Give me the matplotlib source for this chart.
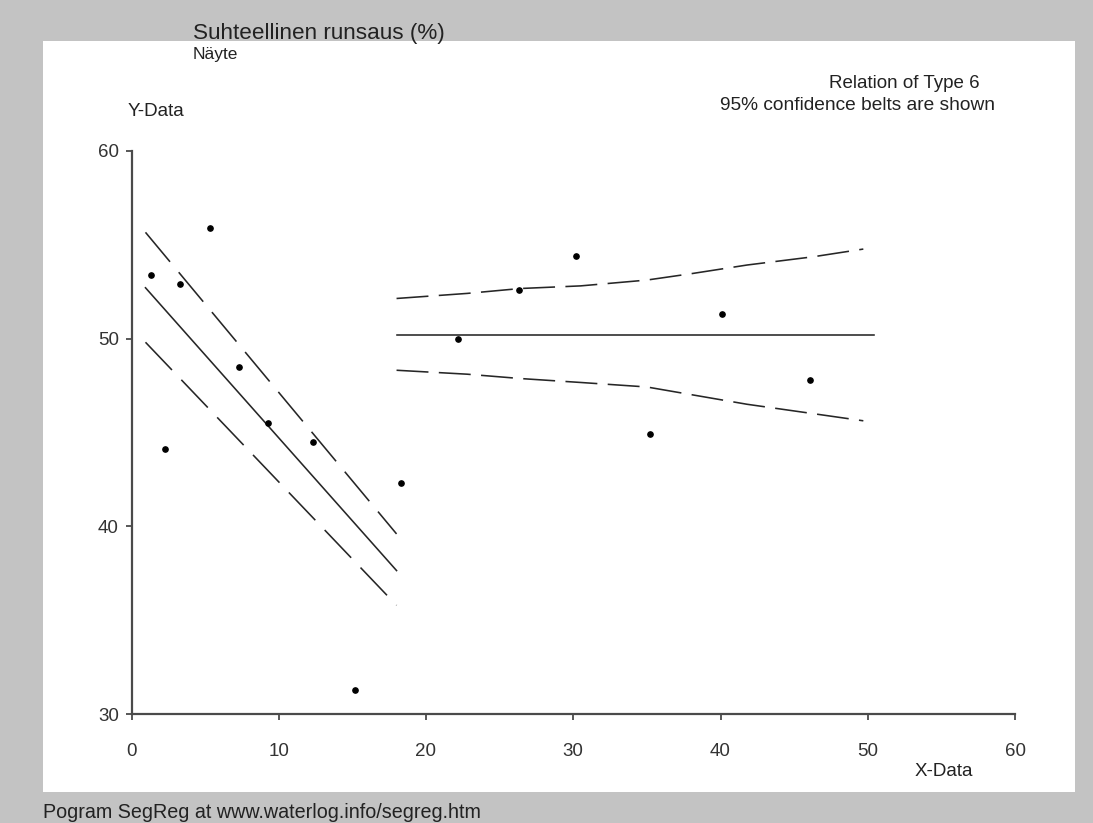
import matplotlib
matplotlib.use("Agg")
import matplotlib.pyplot as plt
from matplotlib.patches import Rectangle

plt.rcParams['font.family'] = ['Liberation Sans', 'DejaVu Sans']

# observed points
x_obs = [1.3, 2.3, 3.3, 5.3, 7.3, 9.3, 12.3, 15.2, 18.3, 22.2, 26.3, 30.2, 35.2, 40.1, 46.1]
y_obs = [53.4, 44.1, 52.9, 55.9, 48.5, 45.5, 44.5, 31.3, 42.3, 50.0, 52.6, 54.4, 44.9, 51.3, 47.8]

# segment 1 (sloping) with confidence belts
x_seg1 = [0.95, 18.0]
y_seg1 = [52.7, 37.65]
y_seg1_up = [55.65, 39.6]
y_seg1_lo = [49.8, 35.8]

# segment 2 (horizontal) with confidence belts
x_seg2 = [18.0, 50.4]
y_seg2 = [50.2, 50.2]
x_belt2 = [18.0, 22.8, 26.4, 30.5, 35.0, 38.1, 41.8, 46.3, 49.7]
y_belt2_up = [52.13, 52.40, 52.66, 52.80, 53.11, 53.46, 53.91, 54.35, 54.76]
y_belt2_lo = [48.31, 48.10, 47.87, 47.66, 47.42, 47.00, 46.50, 46.00, 45.62]

x_ticks = [0, 10, 20, 30, 40, 50, 60]
y_ticks = [30, 40, 50, 60]

W, H = 1093, 823


def fx(px):
    return px / W


def fy(py):
    return 1 - py / H


fig = plt.figure(figsize=(W / 100, H / 100), dpi=100, facecolor='#c3c3c3')
fig.patches.append(Rectangle((fx(43), fy(792)), fx(1075) - fx(43), fy(41) - fy(792),
                             transform=fig.transFigure, facecolor='white',
                             edgecolor='none', zorder=-5))

ax = fig.add_axes([fx(131.5), fy(714.3), fx(1015) - fx(131.5), fy(150.6) - fy(714.3)])
ax.set_zorder(2)
ax.set_facecolor('none')
ax.set_xlim(0, 60)
ax.set_ylim(30, 60)

line_col = '#262626'
ax.plot(x_seg1, y_seg1, color=line_col, lw=1.15)
ax.plot(x_seg1, y_seg1_up, color=line_col, lw=1.15, dashes=(24, 8.5))
ax.plot(x_seg1, y_seg1_lo, color=line_col, lw=1.15, dashes=(24, 8.5))
ax.plot(x_seg2, y_seg2, color=line_col, lw=1.15)
ax.plot(x_belt2, y_belt2_up, color=line_col, lw=1.15, dashes=(20, 6.5))
ax.plot(x_belt2, y_belt2_lo, color=line_col, lw=1.15, dashes=(20, 6.5))
ax.plot(x_obs, y_obs, 'o', color='black', ms=3.8, zorder=5)

for side in ['top', 'right']:
    ax.spines[side].set_visible(False)
for side in ['left', 'bottom']:
    ax.spines[side].set_color('#4a4a4a')
    ax.spines[side].set_linewidth(1.6)

ax.set_xticks(x_ticks)
ax.set_yticks(y_ticks)
ax.tick_params(axis='both', direction='out', length=4, width=1.3, color='#4a4a4a',
               labelsize=13.5, labelcolor='#333333')
ax.tick_params(axis='x', pad=17)
ax.tick_params(axis='y', pad=5)

txt = '#222222'
fig.text(fx(193), fy(34), 'Suhteellinen runsaus (%)', fontsize=16.2, color=txt, va='center')
fig.text(fx(193), fy(55), 'Näyte', fontsize=12.5, color=txt, va='center')
fig.text(fx(128), fy(111), 'Y-Data', fontsize=13.5, color=txt, va='center')
fig.text(fx(980), fy(83), 'Relation of Type 6', fontsize=13.5, color=txt, va='center', ha='right')
fig.text(fx(995), fy(106), '95% confidence belts are shown', fontsize=13.8, color=txt,
         va='center', ha='right')
fig.text(fx(944), fy(771), 'X-Data', fontsize=13.5, color=txt, va='center', ha='center')
fig.text(fx(43), fy(812), 'Pogram SegReg at www.waterlog.info/segreg.htm', fontsize=14.2,
         color=txt, va='center')

fig.savefig('out.png', dpi=100, facecolor=fig.get_facecolor())
